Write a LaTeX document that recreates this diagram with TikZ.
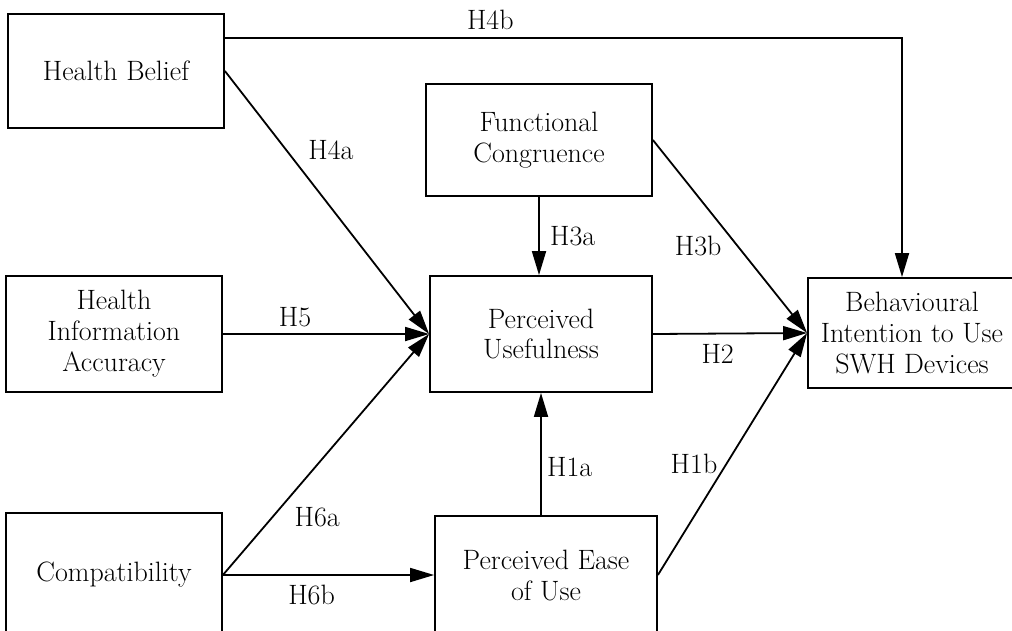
\documentclass[tikz,border=0pt]{standalone}
\usepackage{tikz}
\usetikzlibrary{arrows.meta}

\begin{document}
\begin{tikzpicture}[x=1pt,y=-1pt,>={Triangle[length=24pt,width=14pt]},line width=1.8pt,
    construct/.style={draw,rectangle,align=center,inner sep=0pt,font=\fontsize{28}{31}\selectfont},
    hyp/.style={font=\fontsize{28}{31}\selectfont}]
    \useasboundingbox (0,0) rectangle (1012,630);
    \clip (0,0) rectangle (1012,630);

    \node[construct,minimum width=216pt,minimum height=114pt] (hb) at (116,71) {Health Belief};
    \node[construct,minimum width=216pt,minimum height=116pt] (hia) at (114,334) {Health\\Information\\Accuracy};
    \node[construct,minimum width=216pt,minimum height=124pt] (comp) at (114,575) {Compatibility};
    \node[construct,minimum width=226pt,minimum height=112pt] (fc) at (539,140) {Functional\\Congruence};
    \node[construct,minimum width=222pt,minimum height=116pt] (pu) at (541,334) {Perceived\\Usefulness};
    \node[construct,minimum width=222pt,minimum height=118pt] (peou) at (546,575) {Perceived Ease\\of Use};
    \node[construct,minimum width=208pt,minimum height=110pt] (bi) at (912,333) {Behavioural\\Intention to Use\\SWH Devices};

    \path[->]
    (hb.east) edge node[hyp,pos=0.30,right=18pt] {H4a} (pu.west)
    (hia.east) edge node[hyp,pos=0.35,above=3pt] {H5} (pu.west)
    (comp.east) edge node[hyp,pos=0.24,right=18pt] {H6a} (pu.west)
    (comp.east) edge node[hyp,pos=0.42,below=6pt] {H6b} (peou.west)

    (fc.south) edge node[hyp,pos=0.5,right=7pt] {H3a} (fc.south |- pu.north)
    (fc.east) edge node[hyp,pos=0.55,left=12pt] {H3b} (bi.west)

    (pu.east) edge node[hyp,pos=0.42,below=7pt] {H2} (bi.west)

    (pu.south |- peou.north) edge node[hyp,pos=0.39,right=2pt] {H1a} (pu.south)
    (peou.east) edge node[hyp,pos=0.46,left=5pt] {H1b} (bi.west)
    ;

    \draw[->] ([yshift=-25pt]hb.north east) -| node[hyp,pos=0.196,above=4pt] {H4b} ([xshift=-10pt]bi.north);
\end{tikzpicture}
\end{document}
